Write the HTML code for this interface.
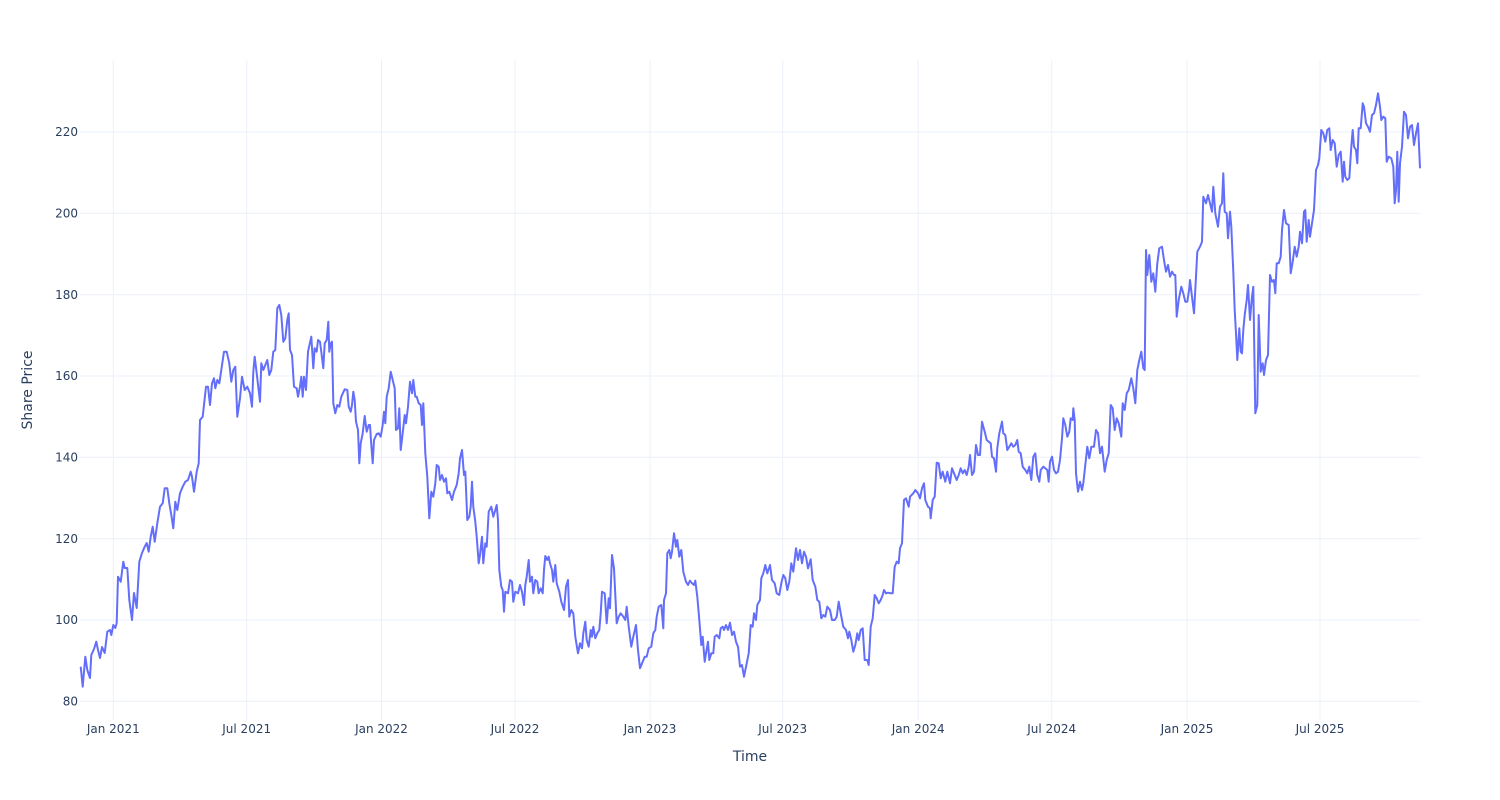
<!DOCTYPE html>
<html>
<head>
<meta charset="utf-8">
<style>
  html, body { margin: 0; padding: 0; background: #ffffff; }
  svg { display: block; }
  text { font-family: "DejaVu Sans", "Liberation Sans", sans-serif; fill: #2a3f5f; }
</style>
</head>
<body>
<svg width="1500" height="800" viewBox="0 0 1500 800" xmlns="http://www.w3.org/2000/svg">
  <rect x="0" y="0" width="1500" height="800" fill="#ffffff"/>
  <!-- horizontal grid -->
  <g stroke="#ebf0f8" stroke-width="1">
    <line x1="80" y1="701.3" x2="1420" y2="701.3"/>
    <line x1="80" y1="620" x2="1420" y2="620"/>
    <line x1="80" y1="538.7" x2="1420" y2="538.7"/>
    <line x1="80" y1="457.3" x2="1420" y2="457.3"/>
    <line x1="80" y1="376" x2="1420" y2="376"/>
    <line x1="80" y1="294.7" x2="1420" y2="294.7"/>
    <line x1="80" y1="213.3" x2="1420" y2="213.3"/>
    <line x1="80" y1="132" x2="1420" y2="132"/>
    <!-- vertical grid -->
    <line x1="113.3" y1="60" x2="113.3" y2="720"/>
    <line x1="246.7" y1="60" x2="246.7" y2="720"/>
    <line x1="381.5" y1="60" x2="381.5" y2="720"/>
    <line x1="515" y1="60" x2="515" y2="720"/>
    <line x1="650" y1="60" x2="650" y2="720"/>
    <line x1="782.7" y1="60" x2="782.7" y2="720"/>
    <line x1="918.2" y1="60" x2="918.2" y2="720"/>
    <line x1="1051.7" y1="60" x2="1051.7" y2="720"/>
    <line x1="1187" y1="60" x2="1187" y2="720"/>
    <line x1="1320" y1="60" x2="1320" y2="720"/>
  </g>

  <!-- y tick labels -->
  <g font-size="12" text-anchor="end">
    <text x="78" y="705.5">80</text>
    <text x="78" y="624.2">100</text>
    <text x="78" y="542.9">120</text>
    <text x="78" y="461.5">140</text>
    <text x="78" y="380.2">160</text>
    <text x="78" y="298.9">180</text>
    <text x="78" y="217.5">200</text>
    <text x="78" y="136.2">220</text>
  </g>
  <!-- x tick labels -->
  <g font-size="12" text-anchor="middle">
    <text x="113.3" y="733">Jan 2021</text>
    <text x="246.7" y="733">Jul 2021</text>
    <text x="381.5" y="733">Jan 2022</text>
    <text x="515" y="733">Jul 2022</text>
    <text x="650" y="733">Jan 2023</text>
    <text x="782.7" y="733">Jul 2023</text>
    <text x="918.2" y="733">Jan 2024</text>
    <text x="1051.7" y="733">Jul 2024</text>
    <text x="1187" y="733">Jan 2025</text>
    <text x="1320" y="733">Jul 2025</text>
  </g>
  <!-- axis titles -->
  <text x="750" y="761" font-size="14" text-anchor="middle">Time</text>
  <text x="0" y="0" font-size="14" text-anchor="middle" transform="translate(32,390) rotate(-90)">Share Price</text>

  <!-- series -->
  <polyline fill="none" stroke="#636efa" stroke-width="2" stroke-linejoin="round" points="
80.7,666.7 82.7,686.7 85.3,656.7 87.3,670 90,678 91.3,655 94,649 96.3,641.7 98,650 100,658 102,647 104.7,653 107.3,631.7 110,630 111.3,635 113.3,625 115.3,628 116.7,623 118,576.7 120.7,581.7 123.3,561.7 124.7,568 127.3,568 129.3,600 132,620 134,593 136.7,608 139.3,561.7 142,553 144.7,546.7 146.7,543 148.7,551.7 150.7,536.7 152.7,526.7 154.7,541.7 157.3,523.3 160,506.7 162.7,503.3 164.7,488.3 167.3,488.3 169.3,503.3 171.3,515 173.3,528.3 175.3,501.7 177.3,510 180,493.3 182.7,486.7 185.3,481.7 188,480 190.7,471.7 192,476.7 194,491.7 196.7,471.7 198.7,463.3 200,420 202.7,416.7 206,386.7 208,386.7 210,405 212,383.3 214,378.3 215.3,388.3 217.3,380 219.3,383.3 221.3,370 224,351.7 226.7,351.7 229.3,363.3 231.3,381.7 233.3,370 235.3,366.7 237.3,416.7 240,398.3 242,376.7 244.7,390 247.3,386.7 250,393.3 252,406.7 253.3,371.7 254.7,356.7 256.7,373.3 260,401.7 261.3,363.3 263.3,370 265.3,365 267.3,360 269.3,375 271.3,370 273.3,351.7 275.3,350 277.3,308.3 279.3,305 281.3,315 283.3,341.7 285.3,338.3 287.3,320 288.7,313.3 290,350 292,355 294,386.7 296.7,388.3 298,396.7
300,386.7 301.3,376.7 302.7,396.7 304,376.7 306,390 308,351.7 311.3,336.7 313.3,368.3 314.7,348.3 316.7,351.7 318,340 320,341.7 321.3,351.7 323.3,368.3 324.7,343.3 326.7,340 328.3,321.7 329.3,351.7 330.7,343.3 332,341.7 333.3,403.3 335.3,413.3 337.3,405 339.3,406.7 341.3,396.7 344.7,389.3 347.3,390 348.7,406.7 350.7,411.7 352,405 353.3,391.7 354.7,400 356,421.7 358,430 359.3,463.3 360.7,443.3 362.7,433.3 364.7,416 366.7,431.7 368.7,425 370,425 371.3,445 372.7,463.3 374,440 376.7,434 378.7,433.3 380.7,436.7 382.7,425 384,411.7 385.3,423.3 386.7,396.7 388.7,388.3 390.7,371.7 392.7,380 394.7,388.3 396,430 398,428.3 399.3,408.3 400.7,450 402.7,433.3 404.7,415 406,423.3 408,406.7 410,381.7 412,393.3 413.3,380 415.3,396.7 416.7,396.7 418.7,403.3 420.7,405 422,425 423.3,403.3 425.3,453.3 427.3,476.7 429.3,518.3 431.3,491.7 433.3,496.7 435.3,483.3 436.7,465 438.7,466.7 440,480 442,475 444,481.7 446,478.3 447.3,493.3 449.3,491.7 452,500 454,491.7 456.7,485 458.7,473.3 460,458.3 462,450 464,475 465.3,471.7 467.3,520 469.3,516.7 470.7,506.7 472,481.7 473.3,506.7 475.3,521.7 476.7,536.7 478.7,563.3 480,555 482,536.7 483.3,563.3 485.3,543.3 486.7,546.7 488.7,511.7 491.3,506.7 493.3,516.7 495.3,510 496.7,505 498,520 499.3,570 501.3,586.7 502.7,590 504,611.7 505.3,591.7 508,593.3 510,580 512,581.7 513.3,601.7 515.3,591.7 518,593.3
520,585 522,591.7 524,605 525.3,585 526.7,576.7 528.7,560 530,581.7 532,576.7 533.3,593.3 535.3,580 537.3,581.7 538.7,593.3 540.7,588.3 542.7,593.3 544,570 545.3,556 547.3,560 548.7,556.7 550,563.3 552,570 553.3,581.7 555.3,565 556.7,583.3 559.3,591.7 561.3,601.7 564,610 566,586.7 568,580 569.3,616.7 571.3,610 573.3,613.3 575.3,636.7 578,653.3 580,643.3 582,648.3 583.3,633.3 585.3,621.7 586.7,640 588.7,646.7 590.7,630 592,636.7 593.3,626.7 595.3,638.3 597.3,633.3 599.3,630 600.7,613.3 602,591.7 604.7,593.3 606.7,623.3 608.7,598.3 610,608.3 612,555 614,568.3 616.7,623.3 618.7,616.7 620.7,613.3 623.3,616.7 625.3,620 626.7,606.7 628.7,626.7 631.3,646.7 633.3,636.7 636,625 638,650 640,668.3 642.7,661.7 644.7,656.7 646.7,656.7 648.7,648.3 651.3,646.7 653.3,633.3 655.3,630 656.7,616.7 658.7,606.7 661.3,605 663.3,628.3 664,600 666,593.3 667.3,553.3 669.3,550 670.7,558.3 672,551.7 674,533.3 676,546.7 677.3,540 679.3,556.7 681.3,550 683.3,571.7 686,581.7 688,585 690,580.7 692,583.3 694,585 695.3,580.7 697.3,596.7 699.3,620 701.3,645 702.7,636.7 704.7,661.7 706,653.3 708,641.7 709.3,660 711.3,653.3 713.3,653.3 714.7,636.7 716.7,635 719.3,638.3 720.7,628.3 722.7,626.7 724,630 726,625 728,630 730,622.7 732,635 734,631.7 736,641.7 738,646.7
740,666.7 742,665 744,676.7 746.7,663.3 748.7,653.3 750.7,625 752.7,626.7 754,613.3 756,620 757.3,605 760,600 761.3,578.3 763.3,573.3 765.3,565 767.3,573.3 770,565 772,580 774.7,583.3 776.7,593.3 779.3,595 781.3,583.3 783.3,575 785.3,578.3 787.3,590 789.3,581.7 791.3,563.3 793.3,571.7 796,548.3 798,560 800,550 802,563.3 804,551.7 806,556.7 808,568.3 810.7,559.3 812.7,580 815.3,586.7 817.3,600 819.3,601.7 821.3,618.3 823.3,615 825.3,616.7 827.3,606.7 830,610 832,620 834.7,620 836.7,616.7 838.7,601.7 840.7,613.3 843.3,626.7 846,630 848,638.3 849.3,631.7 851.3,640 853.3,651.7 855.3,645 857.3,633.3 858.7,640 860.7,630 862.7,628.3 864.7,660 867.3,660 868.7,665 870.7,626.7 872.7,618.3 874.7,595 876.7,598.3 878.7,603.3 880.7,600 882.7,595 884,590 886,593.3 888,592.7 890.7,593.3 892.7,593.3 894.7,566.7 896.7,561.7 898.7,563.3 900,548.3 902,543.3 904,500 906,498.3 908.7,506.7 910,496.7 913.3,493.3 915.3,490 918,493.3 920,498.3 922,488.3 924,483.3 925.3,500 928,506.7 930,508.3 930.7,518.3 932.7,500 934.7,496.7 936.7,462.7 938.7,463.3 940.7,478.3 942.7,471.7 945.3,481.7 947.3,471.7 950,483.3 952,468.3 954,473.3 956.7,480 958.7,475 960.7,468.3 962.7,473.3 964.7,470 966.7,475 968.7,466.7
970,455 972,475 974,471.7 976,445 978,455 980,455 982,421.7 984.7,431.7 986.7,440 988.7,441.7 990.7,443.3 992,456.7 994,458.3 996,471.7 997.3,448.3 999.3,433.3 1002,421.7 1003.3,433.3 1005.3,435 1007.3,450 1009.3,446.7 1011.3,443.3 1013.3,446.7 1015.3,445 1017.3,440 1018.7,451.7 1020.7,453.3 1022.7,466.7 1025.3,470 1027.3,473.3 1029.3,466.7 1031.3,480 1033.3,456.7 1035.3,453.3 1037.3,475 1039.3,481.7 1040.7,470 1043.3,466.7 1045.3,468.3 1047.3,470 1048.7,481.7 1050,461.7 1052,456.7 1054,470 1056,473.3 1058,471.7 1060,460 1062,438.3 1063.3,418.3 1065.3,425 1067.3,436.7 1069.3,431.7 1070.7,418.3 1072.7,420 1073.3,408.3 1074.7,420 1076,473.3 1078,491.7 1080,481.7 1082,490 1083.3,483.3 1085.3,465 1087.3,446.7 1089.3,458.3 1091.3,446.7 1094,446.7 1096,430 1098,433.3 1100,453.3 1102,446.7 1104.7,471.7 1106.7,460 1108.7,453.3 1110.7,405 1112.7,408.3 1114.7,430 1116.7,418.3 1118.7,423.3 1121.3,436.7 1122.7,403.3 1124.7,410 1126.7,393.3 1128.7,390 1131.3,378.3 1133.3,388.3 1135.3,403.3 1137.3,370 1139.3,360 1141.3,351.7 1143.3,368.3 1144.7,370 1146,250 1147.3,275 1149.3,255 1151.3,281.7 1153.3,273.3 1155.3,291.7 1157.3,263.3 1159.3,248.3 1162,246.7 1164,260 1166,271.7 1168,265 1170,276.7 1172,271.7 1174,275 1175.3,275 1176.7,316.7 1178.7,300 1181.3,286.7 1183.3,293.3 1185.3,301.7 1187.3,301.7 1189.3,288.3
1190,280 1192,296.7 1194,313.3 1196,276.7 1197.3,251.7 1200,246.7 1202,241.7 1203.3,196.7 1206,203.3 1208,195 1210,203.3 1212,211.7 1213.3,186.7 1215.3,213.3 1218,226.7 1220,206.7 1222,203.3 1223.3,173.3 1224.7,211.7 1226.7,213.3 1228,238.3 1230,211.7 1231.3,226.7 1233.3,271.7 1234.7,310 1236,333.3 1237.3,360 1239.3,328.3 1240.7,351.7 1242,353.3 1243.3,330 1244.7,315 1246.7,300 1248,285 1250,320 1252,296.7 1253.3,286.7 1255.3,413.3 1257.3,405 1258.7,315 1260.7,371.7 1262.7,363.3 1264,375 1266,360 1268,355 1270,275 1272,281.7 1274,280 1275.3,293.3 1276.7,263.3 1278.7,263.3 1280.7,256.7 1282,230 1284,210 1286,223.3 1288.7,225 1290.7,273.3 1292.7,261.7 1294.7,246.7 1296.7,256.7 1298.7,246.7 1300,231.7 1302,243.3 1304,211.7 1305.3,210 1306.7,241.7 1308.7,220 1310,236.7 1312,223.3 1314,210 1316,170 1318,165 1319.3,158.3 1321.3,130 1323.3,133.3 1325.3,141.7 1327.3,130 1329.3,128.3 1330.7,150 1332.7,140 1334.7,143.3 1336.7,166.7 1338.7,155 1340.7,151.7 1342.7,181.7 1344,161.7 1345.3,176.7 1347.3,180 1349.3,178.3 1351.3,146.7 1352.7,130 1354,146.7 1356,150 1357.3,163.3 1358.7,128.3 1360.7,128.3 1362.7,103.3 1364,106.7 1366,123.3 1368,126.7 1370,131.7 1372,115 1374,113.3 1376,105 1378,93.3 1380,106.7 1381.3,120 1383.3,116.7 1385.3,118.3 1386.7,161.7 1388.7,156.7 1391.3,158.3 1393.3,166.7 1394.7,203.3 1396,190 1397.3,151.7 1398.7,201.7 1400,163.3 1402,146.7 1404,111.7 1406,115 1408,138.3 1410,126.7 1412,125 1414,145 1416,133.3 1418,123.3 1420,168.3"/>
</svg>
</body>
</html>
